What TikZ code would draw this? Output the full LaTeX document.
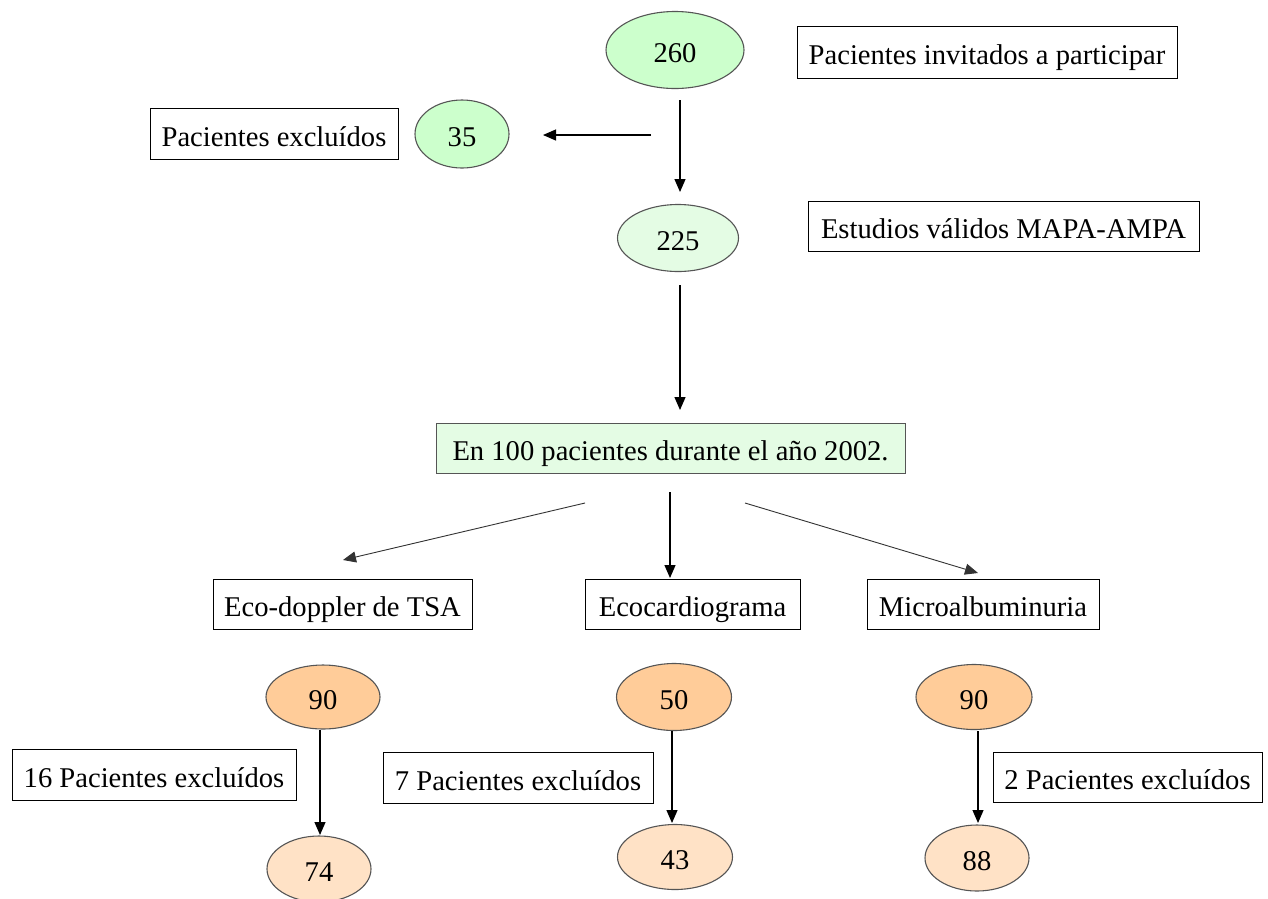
\documentclass[tikz,border=0pt]{standalone}
\usepackage{fontspec}
\setmainfont{Liberation Serif}
\usetikzlibrary{shapes.geometric,arrows.meta}
\definecolor{gstrong}{HTML}{CCFFCC}
\definecolor{glight}{HTML}{E4FCE4}
\definecolor{ostrong}{HTML}{FFCC99}
\definecolor{olight}{HTML}{FFE2C6}
\definecolor{edgegray}{HTML}{555555}
\tikzset{
  txt/.style={font=\fontsize{28.6}{30}\selectfont, text=black, text height=25pt, text depth=0pt},
  oval/.style={txt, ellipse, draw=edgegray, line width=1.1pt, inner sep=0pt},
  box/.style={txt, rectangle, draw=black, line width=1pt, inner sep=0pt, fill=white},
  arr/.style={line width=1.2pt, -{Triangle[length=13pt,width=11pt]}},
  darr/.style={line width=0.9pt, draw=black!80, -{Triangle[length=13pt,width=11pt]}},
}
\begin{document}
\begin{tikzpicture}[x=1pt,y=-1pt]
\useasboundingbox (0,0) rectangle (1268,898);
\fill[white] (0,0) rectangle (1268,898);
% ellipses
\node[oval, fill=gstrong, minimum width=138, minimum height=77] (n260) at (675,50) {260};
\node[oval, fill=gstrong, minimum width=94, minimum height=68] (n35) at (462,134) {35};
\node[oval, fill=glight, minimum width=121, minimum height=67] (n225) at (678,238) {225};
\node[oval, fill=ostrong, minimum width=114, minimum height=64] (n90a) at (323,697) {90};
\node[oval, fill=ostrong, minimum width=115, minimum height=67] (n50) at (674,697) {50};
\node[oval, fill=ostrong, minimum width=116, minimum height=65] (n90c) at (974,697) {90};
\node[oval, fill=olight, minimum width=104, minimum height=66] (n74) at (319,869) {74};
\node[oval, fill=olight, minimum width=115, minimum height=65] (n43) at (675,857) {43};
\node[oval, fill=olight, minimum width=104, minimum height=66] (n88) at (977,858) {88};
% boxes
\node[box, minimum width=380, minimum height=52] (binv) at (987,52) {Pacientes invitados a participar};
\node[box, minimum width=248, minimum height=51] (bexc) at (274,133.5) {Pacientes excluídos};
\node[box, minimum width=391, minimum height=50] (bval) at (1003.5,226) {Estudios válidos MAPA-AMPA};
\node[box, fill=glight, draw=edgegray, minimum width=469, minimum height=50] (b100) at (670.5,448) {En 100 pacientes durante el año 2002.};
\node[box, minimum width=259, minimum height=50] (beco) at (342.5,604) {Eco-doppler de TSA};
\node[box, minimum width=215, minimum height=50] (bcar) at (692.5,604) {Ecocardiograma};
\node[box, minimum width=232, minimum height=50] (bmic) at (983,604) {Microalbuminuria};
\node[box, minimum width=284, minimum height=51] (b16) at (154,774.5) {16 Pacientes excluídos};
\node[box, minimum width=270, minimum height=51] (b7) at (518,777.5) {7 Pacientes excluídos};
\node[box, minimum width=269, minimum height=50] (b2) at (1127.5,777) {2 Pacientes excluídos};
% connector end points (arrows float between nodes)
\coordinate (a1s) at (680,100); \coordinate (a1e) at (680,192);
\coordinate (a2s) at (651,135); \coordinate (a2e) at (543,135);
\coordinate (a3s) at (680,285); \coordinate (a3e) at (680,410);
\coordinate (a4s) at (585,503); \coordinate (a4e) at (343,560);
\coordinate (a5s) at (670,492); \coordinate (a5e) at (670,578);
\coordinate (a6s) at (745,503); \coordinate (a6e) at (978,573);
\coordinate (a7s) at (320,730); \coordinate (a7e) at (320,835);
\coordinate (a8s) at (672,731); \coordinate (a8e) at (672,823);
\coordinate (a9s) at (978,731); \coordinate (a9e) at (978,823);
\draw[arr] (a1s) -- (a1e);
\draw[arr] (a2s) -- (a2e);
\draw[arr] (a3s) -- (a3e);
\draw[darr] (a4s) -- (a4e);
\draw[arr] (a5s) -- (a5e);
\draw[darr] (a6s) -- (a6e);
\draw[arr] (a7s) -- (a7e);
\draw[arr] (a8s) -- (a8e);
\draw[arr] (a9s) -- (a9e);
\end{tikzpicture}
\end{document}
